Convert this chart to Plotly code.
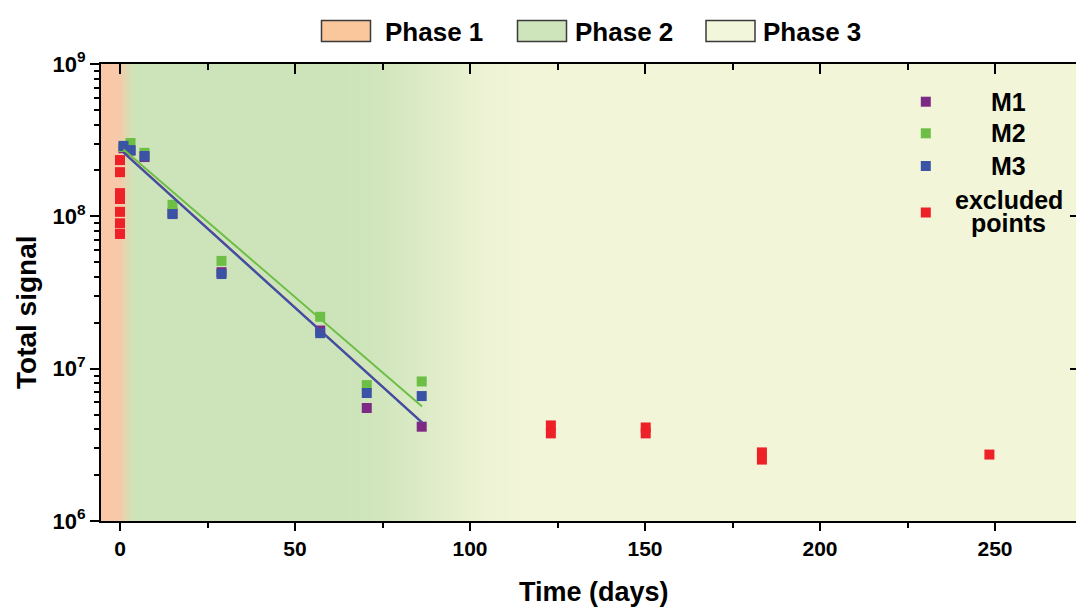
import plotly.graph_objects as go

# ---------------- data ----------------
days = [1, 3, 7, 15, 29, 57.2, 70.5, 86.2]
m1_signal = [2.80e8, 2.70e8, 2.45e8, 1.05e8, 4.30e7, 1.78e7, 5.52e6, 4.16e6]
m2_signal = [2.85e8, 3.03e8, 2.61e8, 1.19e8, 5.10e7, 2.19e7, 7.80e6, 8.24e6]
m3_signal = [2.90e8, 2.72e8, 2.49e8, 1.035e8, 4.18e7, 1.71e7, 6.92e6, 6.61e6]

excluded_days = [0, 0, 0, 0, 0, 0, 0, 123.1, 123.1, 150.2, 150.2, 183.4, 183.4, 248.4]
excluded_signal = [2.34e8, 1.95e8, 1.42e8, 1.30e8, 1.07e8, 9.0e7, 7.66e7,
                   4.24e6, 3.76e6, 4.11e6, 3.76e6, 2.82e6, 2.53e6, 2.73e6]

fit_days = [1, 86.3]
m1_fit = [2.635e8, 4.45e6]
m2_fit = [2.75e8, 5.65e6]
m3_fit = [2.61e8, 4.41e6]

series_names = ["M1", "M2", "M3", "excluded points"]
series_colors = ["#7D2A85", "#6CBE45", "#3A53A4", "#EE2128"]

phase_names = ["Phase 1", "Phase 2", "Phase 3"]
phase_colors = ["#F8C8A8", "#CDE4BA", "#F2F5D8"]
phase_swatch_colors = ["#FAC69C", "#CEE5BC", "#F2F6DA"]
# day ranges over which one phase colour blends into the next
phase_blends = [(-1.3, 4.6), (62.0, 118.0)]

x_ticks = [0, 50, 100, 150, 200, 250]
x_minor = [25, 75, 125, 175, 225]
y_ticks = [1e6, 1e7, 1e8, 1e9]
y_ticktext = ["10<sup>6</sup>", "10<sup>7</sup>", "10<sup>8</sup>", "10<sup>9</sup>"]
y_minor = [m * 10 ** e for e in range(6, 9) for m in range(2, 10)]

X_RANGE = [-5.43, 273.14]
FONT = "Liberation Sans, Arial, Helvetica, sans-serif"

W, H = 1076, 608
ML, MR, MT, MB = 101, 0, 64, 87
PW, PH = W - ML - MR, H - MT - MB
PX_PER_DAY = PW / (X_RANGE[1] - X_RANGE[0])


def px_to_paper(px, py):
    return (px - ML) / PW, (H - MB - py) / PH


def hex_to_rgb(h):
    h = h.lstrip("#")
    return tuple(int(h[i:i + 2], 16) for i in (0, 2, 4))


def mix(c1, c2, t):
    a, b = hex_to_rgb(c1), hex_to_rgb(c2)
    return "rgb(%d,%d,%d)" % tuple(round(a[i] + (b[i] - a[i]) * t) for i in range(3))


def bold(size):
    return dict(family=FONT, size=size, color="black", weight="bold")


# ---------------- background gradient shapes ----------------
shapes = []


def band(x0, x1, color):
    shapes.append(dict(type="rect", xref="x", yref="paper", x0=x0, x1=x1, y0=0, y1=1,
                       fillcolor=color, line=dict(width=0), layer="below"))


band(X_RANGE[0] - 5, phase_blends[0][0] + 0.2, phase_colors[0])
band(phase_blends[0][1] - 0.2, phase_blends[1][0] + 0.2, phase_colors[1])
band(phase_blends[1][1] - 0.2, X_RANGE[1] + 5, phase_colors[2])
for k, (b0, b1) in enumerate(phase_blends):
    n = max(6, int((b1 - b0) * PX_PER_DAY / 3))
    step = (b1 - b0) / n
    for i in range(n):
        t = (i + 0.5) / n
        t = t * t * (3 - 2 * t)
        band(b0 + i * step, b0 + (i + 1) * step + 0.3 / PX_PER_DAY * 3,
             mix(phase_colors[k], phase_colors[k + 1], t))

annotations = []

# ---------------- phase legend (top) ----------------
swatch_left = [321.5, 517.5, 706.0]
label_left = [383.0, 573.0, 761.0]
for i, name in enumerate(phase_names):
    x0, y0 = px_to_paper(swatch_left[i], 41.4)
    x1, y1 = px_to_paper(swatch_left[i] + 49, 20.4)
    shapes.append(dict(type="rect", xref="paper", yref="paper", x0=x0, x1=x1, y0=y0, y1=y1,
                       fillcolor=phase_swatch_colors[i], line=dict(color="#3a3a3a", width=1.5),
                       layer="above"))
    ax, ay = px_to_paper(label_left[i], 32)
    annotations.append(dict(text=name, xref="paper", yref="paper", x=ax, y=ay,
                            xanchor="left", yanchor="middle", showarrow=False, font=bold(26)))

# ---------------- series legend (inside, right) ----------------
legend_marker_y = [101.7, 133.3, 166.0, 212.5]
legend_text_lines = [["M1"], ["M2"], ["M3"], ["excluded", "points"]]
legend_text_y = [[101.7], [133.3], [166.0], [200.0, 223.5]]
for i in range(4):
    mx0, my0 = px_to_paper(925.8 - 5, legend_marker_y[i] + 5)
    mx1, my1 = px_to_paper(925.8 + 5, legend_marker_y[i] - 5)
    shapes.append(dict(type="rect", xref="paper", yref="paper", x0=mx0, x1=mx1, y0=my0, y1=my1,
                       fillcolor=series_colors[i], line=dict(width=0), layer="above"))
    for line_text, ty in zip(legend_text_lines[i], legend_text_y[i]):
        tx, tyy = px_to_paper(1008.5, ty)
        annotations.append(dict(text=line_text, xref="paper", yref="paper", x=tx, y=tyy,
                                xanchor="center", yanchor="middle", showarrow=False,
                                font=bold(25)))

# ---------------- axis titles ----------------
tx, ty = px_to_paper(593.5, 592)
annotations.append(dict(text="Time (days)", xref="paper", yref="paper", x=tx, y=ty,
                        xanchor="center", yanchor="middle", showarrow=False, font=bold(27)))
tx, ty = px_to_paper(26, 312)
annotations.append(dict(text="Total signal", xref="paper", yref="paper", x=tx, y=ty,
                        xanchor="center", yanchor="middle", textangle=-90, showarrow=False,
                        font=bold(28)))

# ---------------- traces ----------------
fig = go.Figure()
for i, vals in enumerate([m1_signal, m2_signal, m3_signal]):
    fig.add_trace(go.Scatter(x=days, y=vals, mode="markers", name=series_names[i],
                             marker=dict(symbol="square", size=10, color=series_colors[i],
                                         line=dict(width=0))))
fig.add_trace(go.Scatter(x=excluded_days, y=excluded_signal, mode="markers",
                         name=series_names[3],
                         marker=dict(symbol="square", size=10, color=series_colors[3],
                                     line=dict(width=0))))

for i, fit in [(0, m1_fit), (1, m2_fit), (2, m3_fit)]:
    fig.add_trace(go.Scatter(x=fit_days, y=fit, mode="lines", showlegend=False,
                             name=series_names[i] + " fit",
                             line=dict(color=series_colors[i], width=2), hoverinfo="skip"))

# empty trace to activate the mirrored top/right axes
fig.add_trace(go.Scatter(x=[None], y=[None], xaxis="x2", yaxis="y2", showlegend=False,
                         hoverinfo="skip", mode="markers"))

fig.update_layout(
    width=W, height=H,
    margin=dict(l=ML, r=MR, t=MT, b=MB, autoexpand=False),
    paper_bgcolor="white", plot_bgcolor="white",
    font=dict(family=FONT, color="black"),
    shapes=shapes, annotations=annotations,
    showlegend=False,
    xaxis=dict(range=X_RANGE, showgrid=False, zeroline=False, showline=True,
               linecolor="black", linewidth=2, ticks="outside", ticklen=8, tickwidth=2,
               tickcolor="black", tickmode="array", tickvals=x_ticks,
               minor=dict(tickmode="array", tickvals=x_minor, ticks="outside", ticklen=5,
                          tickwidth=1.5, tickcolor="black", showgrid=False),
               tickfont=bold(21), automargin=False),
    xaxis2=dict(overlaying="x", side="top", matches="x", range=X_RANGE, showgrid=False,
                zeroline=False, showline=True, linecolor="black", linewidth=2,
                ticks="inside", ticklen=10, tickwidth=2, tickcolor="black",
                tickmode="array", tickvals=x_ticks, showticklabels=False,
                minor=dict(tickmode="array", tickvals=x_minor, ticks="inside", ticklen=6,
                           tickwidth=1.5, tickcolor="black", showgrid=False),
                automargin=False),
    yaxis=dict(type="log", range=[6, 9], showgrid=False, zeroline=False, showline=True,
               linecolor="black", linewidth=2, ticks="outside", ticklen=9, tickwidth=2,
               tickcolor="black", tickmode="array", tickvals=y_ticks, ticktext=y_ticktext,
               minor=dict(tickmode="array", tickvals=y_minor, ticks="outside", ticklen=5,
                          tickwidth=1.5, tickcolor="black", showgrid=False),
               tickfont=bold(22), automargin=False),
    yaxis2=dict(type="log", overlaying="y", side="right", matches="y", range=[6, 9],
                showgrid=False, zeroline=False, showline=False, ticks="inside", ticklen=6,
                tickwidth=2, tickcolor="black", tickmode="array", tickvals=y_ticks,
                showticklabels=False, automargin=False),
)

fig.write_html("out.html")
